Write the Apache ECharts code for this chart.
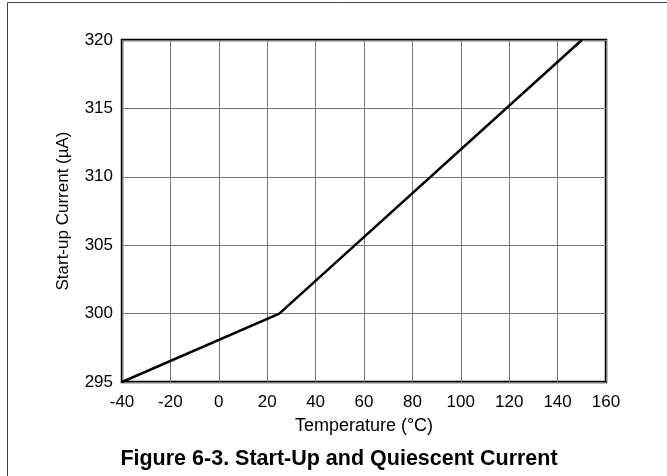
<!DOCTYPE html>
<html><head><meta charset="utf-8">
<script src="https://cdn.jsdelivr.net/npm/echarts@6/dist/echarts.min.js"></script>
<style>html,body{margin:0;padding:0;background:#fff}#c{width:667px;height:476px}</style>
</head><body><div id="c"></div>
<script>
const temperatures = [-40, 25, 150];
const currents = [295, 300, 320];
const xTicks = {min: -40, max: 160, interval: 20};
const yTicks = {min: 295, max: 320, interval: 5};
const chart = echarts.init(document.getElementById('c'), null, {renderer: 'canvas'});
const F = '"Liberation Sans", Arial, sans-serif';
chart.setOption({
  animation: false,
  backgroundColor: '#fff',
  grid: {left: 122, top: 40, right: 61, bottom: 94, show: true, borderColor: '#000', borderWidth: 2.5},
  xAxis: {
    type: 'value', min: xTicks.min, max: xTicks.max, interval: xTicks.interval,
    name: 'Temperature (°C)', nameLocation: 'middle', nameGap: 35,
    nameTextStyle: {fontFamily: F, fontSize: 18, color: '#000'},
    axisLine: {show: false}, axisTick: {show: false},
    axisLabel: {fontFamily: F, fontSize: 17, color: '#000', margin: 12},
    splitLine: {lineStyle: {color: '#777', width: 1}}
  },
  yAxis: {
    type: 'value', min: yTicks.min, max: yTicks.max, interval: yTicks.interval,
    name: 'Start-up Current (µA)', nameLocation: 'middle', nameGap: 50,
    nameTextStyle: {fontFamily: F, fontSize: 17, color: '#000'},
    axisLine: {show: false}, axisTick: {show: false},
    axisLabel: {fontFamily: F, fontSize: 17, color: '#000', margin: 9},
    splitLine: {lineStyle: {color: '#777', width: 1}}
  },
  series: [{
    type: 'line', data: temperatures.map((t, i) => [t, currents[i]]),
    symbol: 'none', lineStyle: {color: '#000', width: 2.5}
  }],
  graphic: [
    {type: 'line', shape: {x1: 7.5, y1: 2.5, x2: 7.5, y2: 476}, style: {stroke: '#444', lineWidth: 1}},
    {type: 'line', shape: {x1: 7.5, y1: 2.5, x2: 667, y2: 2.5}, style: {stroke: '#444', lineWidth: 1}},
    {type: 'text', x: 339, y: 459, style: {text: 'Figure 6-3. Start-Up and Quiescent Current', font: 'bold 21.5px ' + F, fill: '#000', align: 'center', verticalAlign: 'middle'}}
  ]
});
</script></body></html>
